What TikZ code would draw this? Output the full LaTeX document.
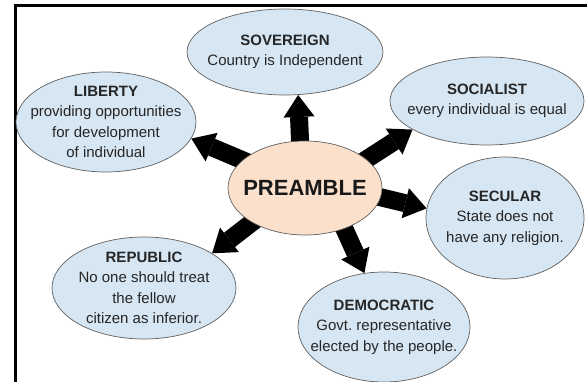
\documentclass[tikz,border=0pt]{standalone}
\usepackage{fontspec}
\setmainfont{Liberation Sans}
\usetikzlibrary{arrows.meta,backgrounds,shapes.geometric}
\definecolor{bubfill}{RGB}{214,230,243}
\definecolor{prefill}{RGB}{251,224,204}
\definecolor{rim}{RGB}{95,95,95}
\tikzset{
  bubble/.style={draw=rim, line width=0.7pt, fill=bubfill, ellipse, inner sep=0pt},
  bubtext/.style={align=center, text=black!85, font=\fontsize{15}{20.5}\selectfont},
  spoke/.style={line width=18pt, -{Triangle[length=22pt,width=31pt,line width=0pt]}, shorten <=-8pt}
}
\begin{document}
\begin{tikzpicture}[x=1pt, y=-1pt]
\useasboundingbox (0,0) rectangle (587,382);
\draw[line width=3pt] (587,6) -- (15,6) -- (15,382);
% centre and the six ideas
\node[bubble, fill=prefill, minimum width=154pt, minimum height=94pt,
  label={[font=\fontsize{22}{26}\selectfont\bfseries, text=black!90]center:PREAMBLE}] (pre) at (305,188) {};
\node[bubble, minimum width=196pt, minimum height=86pt,
  label={[bubtext]center:{\textbf{SOVEREIGN}\\Country is Independent}}] (sov) at (285,52) {};
\node[bubble, minimum width=194pt, minimum height=88pt,
  label={[bubtext]center:{\textbf{SOCIALIST}\\every individual is equal}}] (soc) at (487,101) {};
\node[bubble, minimum width=180pt, minimum height=100pt,
  label={[bubtext]center:{\textbf{LIBERTY}\\providing opportunities\\for development\\of individual}}] (lib) at (106,122) {};
\node[bubble, minimum width=158pt, minimum height=122pt,
  label={[bubtext]center:{\textbf{SECULAR}\\State does not\\have any religion.}}] (sec) at (505,218) {};
\node[bubble, minimum width=184pt, minimum height=102pt,
  label={[bubtext]center:{\textbf{REPUBLIC}\\No one should treat\\the fellow\\citizen as inferior.}}] (rep) at (144,288) {};
\node[bubble, minimum width=172pt, minimum height=110pt,
  label={[bubtext]center:{\textbf{DEMOCRATIC}\\Govt.\ representative\\elected by the people.}}] (dem) at (384,327) {};
% arrows go behind the ellipses
\begin{scope}[on background layer]
\draw[spoke] (pre.96) -- (sov.-73);
\draw[spoke] (pre.156) -- (lib.-11);
\draw[spoke] (pre.25) -- (soc.201);
\draw[spoke] (pre.-7) -- (sec.173);
\draw[spoke] (pre.-46) -- (dem.110);
\draw[spoke] (pre.213) -- (rep.27);
\end{scope}
\end{tikzpicture}
\end{document}
